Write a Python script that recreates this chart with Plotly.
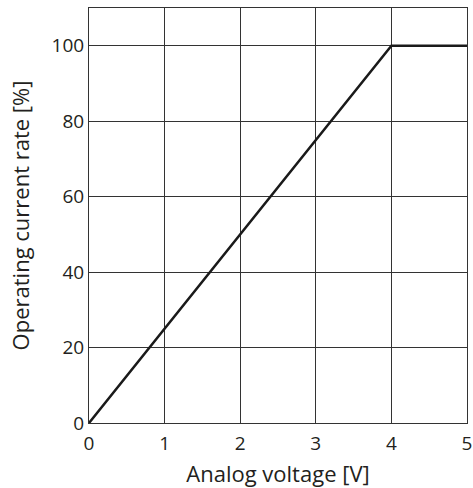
import plotly.graph_objects as go

voltage = [0, 4, 5]
current_rate = [0, 100, 100]
x_ticks = [0, 1, 2, 3, 4, 5]
y_ticks = [0, 20, 40, 60, 80, 100]

fig = go.Figure()
fig.add_trace(go.Scatter(x=voltage, y=current_rate, mode="lines",
                         line=dict(color="#1a1a1a", width=2.5), showlegend=False))

fig.update_layout(
    width=473, height=488,
    margin=dict(l=89, r=6, t=8, b=65),
    paper_bgcolor="white", plot_bgcolor="white",
    font=dict(family="Open Sans, Lato, sans-serif", size=18, color="#231f20"),
)
fig.update_xaxes(range=[0, 5], tickvals=x_ticks, showgrid=True, gridcolor="#333", gridwidth=1,
                 showline=True, linecolor="#333", linewidth=1, mirror=True, zeroline=False,
                 ticks="", ticklen=0, automargin=False, ticklabeloverflow="allow",
                 ticklabelstandoff=3,
                 tickfont=dict(size=19), title=dict(text="Analog voltage [V]"))
fig.update_yaxes(range=[0, 110], tickvals=y_ticks, showgrid=True, gridcolor="#333", gridwidth=1,
                 showline=True, linecolor="#333", linewidth=1, mirror=True, zeroline=False,
                 ticks="", ticklen=0, automargin=False, ticklabeloverflow="allow",
                 tickfont=dict(size=19), title=dict(text="Operating current rate [%]"))
fig.write_html("out.html", config={"displayModeBar": False},
               post_script="document.body.style.margin='0';document.body.style.overflow='hidden';")
